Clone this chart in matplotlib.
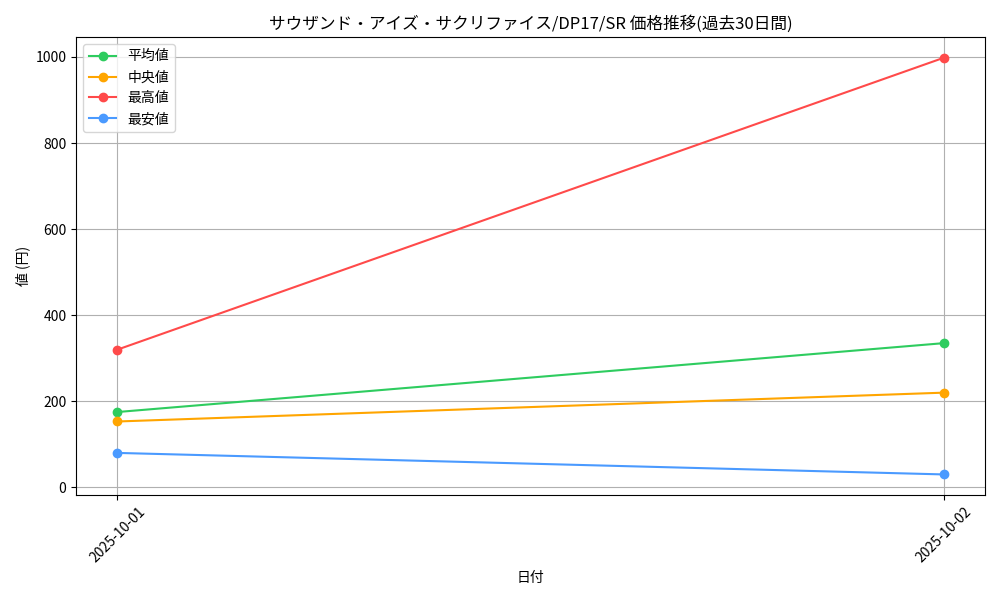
import matplotlib
matplotlib.use('Agg')
import matplotlib.pyplot as plt

plt.rcParams['font.family'] = ['Noto Sans CJK JP', 'DejaVu Sans']

dates = ['2025-10-01', '2025-10-02']
avg_vals = [175, 335]
median_vals = [153, 220]
max_vals = [320, 998]
min_vals = [80, 30]


def main():
	fig, ax = plt.subplots(figsize=(10, 6), dpi=100)
	ax.plot(dates, avg_vals, marker='o', color='#2ecc5f', label='平均値')
	ax.plot(dates, median_vals, marker='o', color='#ffa500', label='中央値')
	ax.plot(dates, max_vals, marker='o', color='#ff4a4a', label='最高値')
	ax.plot(dates, min_vals, marker='o', color='#4a9aff', label='最安値')
	ax.set_title('サウザンド・アイズ・サクリファイス/DP17/SR 価格推移(過去30日間)')
	ax.set_xlabel('日付')
	ax.set_ylabel('値 (円)')
	ax.grid(True)
	ax.legend(loc='upper left')
	plt.xticks(rotation=45)
	plt.tight_layout()
	plt.savefig('out.png')


if __name__ == '__main__':
	main()
